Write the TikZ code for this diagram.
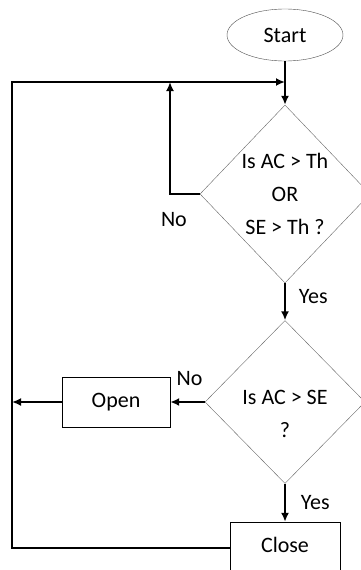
\documentclass[tikz,border=0pt]{standalone}
\usepackage{fontspec}
\setmainfont{Carlito}
\usetikzlibrary{shapes.geometric,arrows.meta}

\begin{document}
\begin{tikzpicture}[x=1pt,y=-1pt,
    font=\fontsize{22}{33}\selectfont,
    term/.style={draw=black!70,ellipse,minimum width=116pt,minimum height=52pt,inner sep=0pt},
    decision/.style={draw=black!60,diamond,inner sep=0pt,align=center},
    box/.style={draw,minimum width=108pt,minimum height=50pt},
    flow/.style={line width=1.8pt,-{Latex[length=9pt,width=8pt]}},
    lbl/.style={inner sep=2pt}]

\useasboundingbox (0,0) rectangle (361,570);

% Start
\node[term] (start) at (285,35) {Start};

% Decisions
\node[decision,minimum width=170pt,minimum height=178pt] (d1) at (285,194) {Is AC > Th\\OR\\SE > Th ?};
\node[decision,minimum width=160pt,minimum height=163pt,
    label={[align=center,yshift=-12pt]center:Is AC > SE\\?}] (d2) at (285,402) {};

% Actions
\node[box] (open) at (116,402) {Open};
\node[box,minimum width=110pt,minimum height=52pt,text height=12pt,text depth=4pt] (close) at (285,548) {Close};

% Return points
\coordinate (lc) at (12,82);
\coordinate (join) at (285,82);
\coordinate (back) at (170,82);

% Connections
\draw[flow] (start) -- (d1);
\draw[flow] (d1) -- node[lbl,right,xshift=11pt,yshift=5pt] {Yes} (d2);
\draw[flow] (d2) -- node[lbl,right,xshift=13pt] {Yes} (close);
\draw[flow] (d2) -- node[lbl,above,xshift=2pt,yshift=13pt] {No} (open);
\draw[flow] (open) -- (open -| lc);
\draw[flow] (d1.west) -- node[lbl,below,xshift=-11pt,yshift=-15pt] {No} (d1.west -| back) -- (back);
\draw[flow] (close.west) -| (lc) -- (join);
\end{tikzpicture}
\end{document}
